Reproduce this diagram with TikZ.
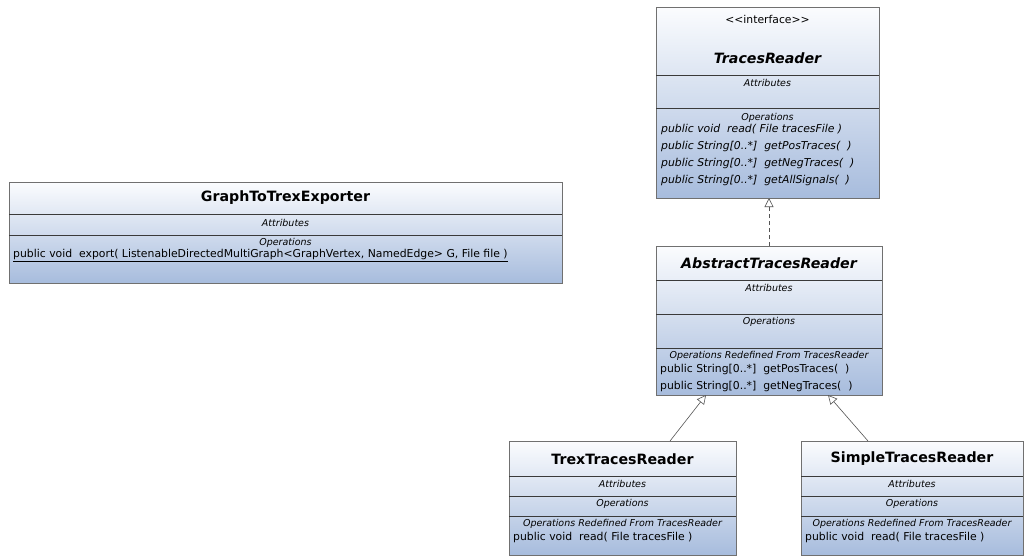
\documentclass[tikz,border=0pt]{standalone}
\usepackage{fontspec}
\setmainfont{DejaVu Sans}
\usetikzlibrary{arrows.meta}
\definecolor{classtop}{HTML}{FBFCFE}
\definecolor{classbot}{HTML}{A7BCDD}
\definecolor{framegray}{HTML}{707070}
\definecolor{rulegray}{HTML}{3A3A3A}
\definecolor{linkgray}{HTML}{555555}
\tikzset{
  classbox/.style={draw=framegray, line width=0.9pt, top color=classtop,
    bottom color=classbot, anchor=north west, inner sep=0pt, outer sep=0pt},
  divider/.style={draw=rulegray, line width=1pt},
  classname/.style={font=\fontsize{14.2}{16}\selectfont\bfseries, inner sep=0pt},
  abstractname/.style={font=\fontsize{14.2}{16}\selectfont\bfseries\itshape, inner sep=0pt},
  stereo/.style={font=\fontsize{10.8}{12}\selectfont, inner sep=0pt},
  compart/.style={font=\fontsize{9.5}{11}\selectfont\itshape, inner sep=0pt},
  member/.style={font=\fontsize{10.85}{12}\selectfont, anchor=west, inner sep=0pt},
  absmember/.style={member, font=\fontsize{10.85}{12}\selectfont\itshape},
  inherit/.style={draw=linkgray, line width=0.6pt,
    -{Triangle[open, length=9pt, width=9pt, fill=white]}},
  realize/.style={inherit, dash pattern=on 4pt off 3pt},
}
\begin{document}
\begin{tikzpicture}[x=1pt, y=-1pt]
\fill[white] (0,0) rectangle (1025,557);
\useasboundingbox (0,0) rectangle (1025,557);

% ---- interface TracesReader ----
\node[classbox, minimum width=223pt, minimum height=191pt] (tr) at (656,7) {};
\draw[divider] (tr.west |- 0,75) -- (tr.east |- 0,75);
\draw[divider] (tr.west |- 0,108) -- (tr.east |- 0,108);
\node[stereo] (tr-st) at (tr.center |- 0,19) {<{}<interface>{}>};
\node[abstractname] (tr-name) at (tr.center |- 0,58) {TracesReader};
\node[compart] (tr-attr) at (tr.center |- 0,83) {Attributes};
\node[compart] (tr-ops) at (tr.center |- 0,118) {Operations};
\node[absmember] (tr-m1) at (661,130) {public void\ \ read( File tracesFile )};
\node[absmember] (tr-m2) at (661,147) {public String[0..*]\ \ getPosTraces(\ \ )};
\node[absmember] (tr-m3) at (661,164) {public String[0..*]\ \ getNegTraces(\ \ )};
\node[absmember] (tr-m4) at (661,181) {public String[0..*]\ \ getAllSignals(\ \ )};

% ---- abstract AbstractTracesReader ----
\node[classbox, minimum width=226pt, minimum height=149pt] (atr) at (656,246) {};
\draw[divider] (atr.west |- 0,280) -- (atr.east |- 0,280);
\draw[divider] (atr.west |- 0,314) -- (atr.east |- 0,314);
\draw[divider] (atr.west |- 0,348) -- (atr.east |- 0,348);
\node[abstractname] (atr-name) at (atr.center |- 0,263) {AbstractTracesReader};
\node[compart] (atr-attr) at (atr.center |- 0,288) {Attributes};
\node[compart] (atr-ops) at (atr.center |- 0,322) {Operations};
\node[compart] (atr-red) at (atr.center |- 0,356) {Operations Redefined From TracesReader};
\node[member] (atr-m1) at (660,370) {public String[0..*]\ \ getPosTraces(\ \ )};
\node[member] (atr-m2) at (660,387) {public String[0..*]\ \ getNegTraces(\ \ )};

% ---- GraphToTrexExporter ----
\node[classbox, minimum width=553pt, minimum height=101pt] (gte) at (9,182) {};
\draw[divider] (gte.west |- 0,214) -- (gte.east |- 0,214);
\draw[divider] (gte.west |- 0,235) -- (gte.east |- 0,235);
\node[classname] (gte-name) at (gte.center |- 0,198) {GraphToTrexExporter};
\node[compart] (gte-attr) at (gte.center |- 0,223) {Attributes};
\node[compart] (gte-ops) at (gte.center |- 0,243) {Operations};
\node[member] (gte-m1) at (13,256) {\underline{public void\ \ export( ListenableDirectedMultiGraph<GraphVertex, NamedEdge> G, File file )}};

% ---- TrexTracesReader ----
\node[classbox, minimum width=227pt, minimum height=114pt] (trex) at (509,441) {};
\draw[divider] (trex.west |- 0,476) -- (trex.east |- 0,476);
\draw[divider] (trex.west |- 0,496) -- (trex.east |- 0,496);
\draw[divider] (trex.west |- 0,516) -- (trex.east |- 0,516);
\node[classname] (trex-name) at (trex.center |- 0,459) {TrexTracesReader};
\node[compart] (trex-attr) at (trex.center |- 0,484) {Attributes};
\node[compart] (trex-ops) at (trex.center |- 0,504) {Operations};
\node[compart] (trex-red) at (trex.center |- 0,524) {Operations Redefined From TracesReader};
\node[member] (trex-m1) at (513,537) {public void\ \ read( File tracesFile )};

% ---- SimpleTracesReader ----
\node[classbox, minimum width=222pt, minimum height=114pt] (str) at (801,441) {};
\draw[divider] (str.west |- 0,476) -- (str.east |- 0,476);
\draw[divider] (str.west |- 0,496) -- (str.east |- 0,496);
\draw[divider] (str.west |- 0,516) -- (str.east |- 0,516);
\node[classname] (str-name) at (str.center |- 0,459) {SimpleTracesReader};
\node[compart] (str-attr) at (str.center |- 0,484) {Attributes};
\node[compart] (str-ops) at (str.center |- 0,504) {Operations};
\node[compart] (str-red) at (str.center |- 0,524) {Operations Redefined From TracesReader};
\node[member] (str-m1) at (805,537) {public void\ \ read( File tracesFile )};

% ---- relations ----
\path (trex.north west) ++(161,0) coordinate (trex-up);
\path (atr.south west) ++(50,0) coordinate (atr-left);
\path (str.north west) ++(67,0) coordinate (str-up);
\path (atr.south west) ++(172,0) coordinate (atr-right);
\draw[realize] (atr.north) -- (atr.north |- tr.south);
\draw[inherit] (trex-up) -- (atr-left);
\draw[inherit] (str-up) -- (atr-right);
\end{tikzpicture}
\end{document}
